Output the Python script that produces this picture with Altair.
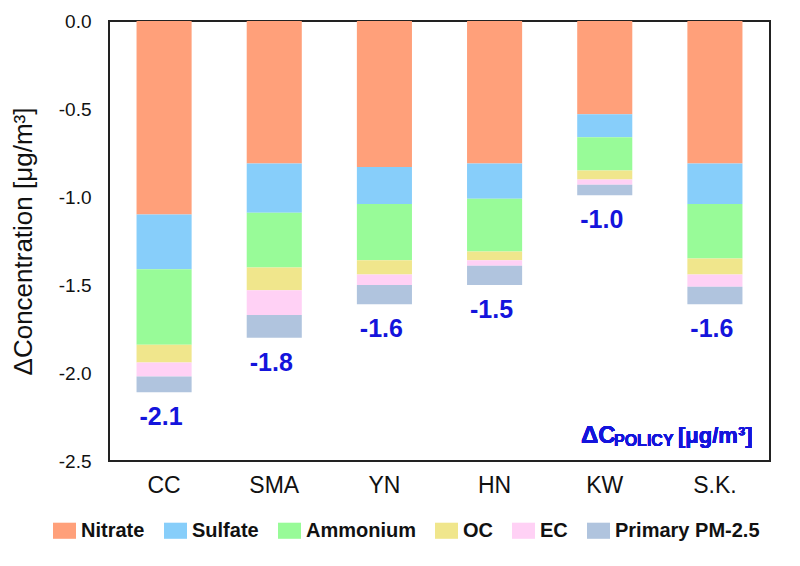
import altair as alt
import pandas as pd

sites = ["CC", "SMA", "YN", "HN", "KW", "S.K."]
components = ["Nitrate", "Sulfate", "Ammonium", "OC", "EC", "Primary PM-2.5"]
colors = ["#FFA07A", "#87CEFA", "#98FB98", "#F0E68C", "#FFD1F5", "#B0C4DE"]

nitrate = [-1.10, -0.81, -0.83, -0.81, -0.53, -0.81]
sulfate = [-0.31, -0.28, -0.21, -0.20, -0.13, -0.23]
ammonium = [-0.43, -0.31, -0.32, -0.30, -0.19, -0.31]
oc = [-0.10, -0.13, -0.08, -0.05, -0.05, -0.09]
ec = [-0.08, -0.14, -0.06, -0.03, -0.03, -0.07]
primary = [-0.09, -0.13, -0.11, -0.11, -0.06, -0.10]
total_labels = ["-2.1", "-1.8", "-1.6", "-1.5", "-1.0", "-1.6"]
y_ticks = [0.0, -0.5, -1.0, -1.5, -2.0, -2.5]

series = [nitrate, sulfate, ammonium, oc, ec, primary]
rows = []
for i, s in enumerate(sites):
    for j, (c, vals) in enumerate(zip(components, series)):
        rows.append({"site": s, "component": c, "value": vals[i], "order": j})
df = pd.DataFrame(rows)
tot = pd.DataFrame({
    "site": sites,
    "total": [sum(v[i] for v in series) for i in range(len(sites))],
    "label": total_labels,
})

FONT = "Liberation Sans"
BLUE = "#1414DC"

xscale = alt.Scale(domain=sites, paddingInner=0.5, paddingOuter=0.25)
yscale = alt.Scale(domain=[-2.5, 0], nice=False, zero=False)

bars = alt.Chart(df).mark_bar().encode(
    x=alt.X("site:N", sort=sites, scale=xscale,
            axis=alt.Axis(title=None, labelAngle=0, labelFontSize=23, labelPadding=13,
                          ticks=False, domain=False, labelColor="#111", labelFont=FONT)),
    y=alt.Y("value:Q", stack="zero", scale=yscale,
            axis=alt.Axis(values=y_ticks, title="ΔConcentration [μg/m³]",
                          labelExpr="replace(format(datum.value, '.1f'), '\u2212', '-')",
                          ticks=False, domain=False, grid=False, labelFontSize=19,
                          labelPadding=18, labelColor="#111", labelFont=FONT,
                          titleFontSize=26, titleFontWeight="normal", titleFont=FONT,
                          titleColor="#111", titleX=-78, titleY=220,
                          titleBaseline="alphabetic")),
    color=alt.Color("component:N", scale=alt.Scale(domain=components, range=colors),
                    legend=alt.Legend(orient="none", legendX=-56, legendY=498,
                                      direction="horizontal", columns=6, title=None,
                                      symbolType="M-1,-0.7H1V0.7H-1Z", symbolSize=529,
                                      symbolStrokeWidth=0, symbolOpacity=1,
                                      labelFontSize=20, labelFontWeight="bold",
                                      labelFont=FONT, labelColor="#111", labelOffset=5,
                                      columnPadding=19, padding=0)),
    order=alt.Order("order:Q", sort="ascending"),
)

labels = alt.Chart(tot).mark_text(fontSize=25, fontWeight="bold", color=BLUE, dy=25, dx=-3,
                                  baseline="middle", align="center", font=FONT).encode(
    x=alt.X("site:N", sort=sites, scale=xscale),
    y=alt.Y("total:Q", scale=yscale),
    text="label:N",
)

ann1 = alt.Chart(tot).mark_text(fontSize=24, fontWeight="bold", color=BLUE, align="left",
                                baseline="alphabetic", font=FONT).encode(
    x=alt.value(472), y=alt.value(422), text=alt.value("ΔC"))
ann2 = alt.Chart(tot).mark_text(fontSize=16, fontWeight="bold", color=BLUE, align="left",
                                baseline="alphabetic", font=FONT).encode(
    x=alt.value(505), y=alt.value(425), text=alt.value("POLICY"))
ann3 = alt.Chart(tot).mark_text(fontSize=22, fontWeight="bold", color=BLUE, align="left",
                                baseline="alphabetic", font=FONT).encode(
    x=alt.value(569), y=alt.value(422), text=alt.value("[μg/m³]"))

chart = alt.layer(bars, labels, ann1, ann2, ann3).properties(
    width=661, height=440,
    padding={"left": 109, "top": 21, "right": 30, "bottom": 105},
    autosize=alt.AutoSizeParams(type="none"),
).configure_view(stroke="#222", strokeWidth=2)

chart.save("out.html", embed_options={"renderer": "svg", "actions": False})
